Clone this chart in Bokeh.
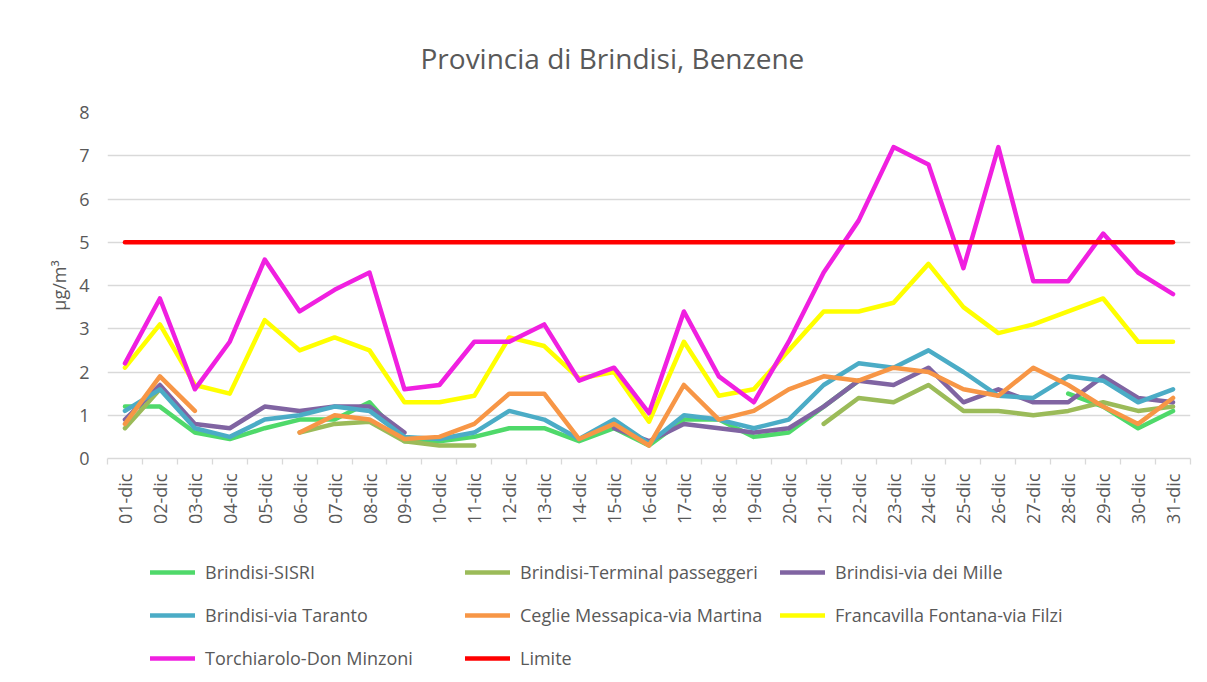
import math
import numpy as np
from bokeh.plotting import figure
from bokeh.layouts import column
from bokeh.models import FixedTicker, Legend, LegendItem, Range1d
from bokeh.embed import file_html
from bokeh.resources import INLINE

N = None
days = ["01-dic", "02-dic", "03-dic", "04-dic", "05-dic", "06-dic", "07-dic", "08-dic",
        "09-dic", "10-dic", "11-dic", "12-dic", "13-dic", "14-dic", "15-dic", "16-dic",
        "17-dic", "18-dic", "19-dic", "20-dic", "21-dic", "22-dic", "23-dic", "24-dic",
        "25-dic", "26-dic", "27-dic", "28-dic", "29-dic", "30-dic", "31-dic"]

sisri = [1.2, 1.2, 0.6, 0.45, 0.7, 0.9, 0.9, 1.3, 0.4, 0.4, 0.5, 0.7, 0.7, 0.4, 0.7, 0.3,
         0.9, 0.9, 0.5, 0.6, 1.2, 1.8, N, N, N, N, N, 1.5, 1.2, 0.7, 1.1]
terminal = [0.7, 1.6, N, N, N, 0.6, 0.8, 0.85, 0.4, 0.3, 0.3, N, N, N, N, N,
            N, N, N, N, 0.8, 1.4, 1.3, 1.7, 1.1, 1.1, 1.0, 1.1, 1.3, 1.1, 1.2]
mille = [0.9, 1.7, 0.8, 0.7, 1.2, 1.1, 1.2, 1.2, 0.6, N, N, N, N, N, 0.7, 0.4,
         0.8, 0.7, 0.6, 0.7, 1.2, 1.8, 1.7, 2.1, 1.3, 1.6, 1.3, 1.3, 1.9, 1.4, 1.3]
taranto = [1.1, 1.6, 0.7, 0.5, 0.9, 1.0, 1.2, 1.1, 0.5, 0.45, 0.6, 1.1, 0.9, 0.45, 0.9, 0.35,
           1.0, 0.9, 0.7, 0.9, 1.7, 2.2, 2.1, 2.5, 2.0, 1.45, 1.4, 1.9, 1.8, 1.3, 1.6]
ceglie = [0.8, 1.9, 1.1, N, N, 0.6, 1.0, 0.9, 0.45, 0.5, 0.8, 1.5, 1.5, 0.45, 0.8, 0.3,
          1.7, 0.9, 1.1, 1.6, 1.9, 1.8, 2.1, 2.0, 1.6, 1.45, 2.1, 1.7, 1.2, 0.8, 1.4]
francavilla = [2.1, 3.1, 1.7, 1.5, 3.2, 2.5, 2.8, 2.5, 1.3, 1.3, 1.45, 2.8, 2.6, 1.85, 2.0, 0.85,
               2.7, 1.45, 1.6, 2.5, 3.4, 3.4, 3.6, 4.5, 3.5, 2.9, 3.1, 3.4, 3.7, 2.7, 2.7]
torchiarolo = [2.2, 3.7, 1.6, 2.7, 4.6, 3.4, 3.9, 4.3, 1.6, 1.7, 2.7, 2.7, 3.1, 1.8, 2.1, 1.05,
               3.4, 1.9, 1.3, 2.7, 4.3, 5.5, 7.2, 6.8, 4.4, 7.2, 4.1, 4.1, 5.2, 4.3, 3.8]
limite = [5] * 31

series = [
    ("Brindisi-SISRI", sisri, "#4FD96A"),
    ("Brindisi-Terminal passeggeri", terminal, "#9BBB59"),
    ("Brindisi-via dei Mille", mille, "#8064A2"),
    ("Brindisi-via Taranto", taranto, "#4BACC6"),
    ("Ceglie Messapica-via Martina", ceglie, "#F79646"),
    ("Francavilla Fontana-via Filzi", francavilla, "#FFFF00"),
    ("Torchiarolo-Don Minzoni", torchiarolo, "#F020E0"),
    ("Limite", limite, "#FF0000"),
]

TXT = "#595959"
GRID = "#D9D9D9"
FONT = "Open Sans"
LW = 4.5

x = list(range(len(days)))

p = figure(width=1200, height=540, output_backend="svg", toolbar_location=None,
           x_range=Range1d(-0.5, len(days) - 0.5), y_range=Range1d(0, 8),
           min_border_left=107, min_border_right=10, min_border_top=110, min_border_bottom=82)
p.outline_line_color = None
p.background_fill_color = "white"
p.border_fill_color = "white"

p.title.text = "Provincia di Brindisi, Benzene"
p.title.align = "left"
p.title.offset = 313
p.title.standoff = 72
p.title.text_font = FONT
p.title.text_font_size = "28px"
p.title.text_font_style = "normal"
p.title.text_color = TXT

for name, vals, col in series:
    y = [np.nan if v is None else v for v in vals]
    p.line(x, y, line_color=col, line_width=LW, line_join="round", line_cap="round")

# axes
p.xaxis.ticker = FixedTicker(ticks=x, minor_ticks=[i - 0.5 for i in range(len(days) + 1)])
p.xaxis.major_label_overrides = {i: d for i, d in enumerate(days)}
p.xaxis.major_label_orientation = math.pi / 2
p.xaxis.axis_line_color = GRID
p.xaxis.axis_line_width = 1.3
p.xaxis.major_tick_line_color = None
p.xaxis.major_tick_out = 0
p.xaxis.major_tick_in = 0
p.xaxis.minor_tick_line_color = GRID
p.xaxis.minor_tick_line_width = 1.3
p.xaxis.minor_tick_out = 6
p.xaxis.minor_tick_in = 0
p.xaxis.major_label_standoff = 9
p.xaxis.major_label_text_font = FONT
p.xaxis.major_label_text_font_size = "18px"
p.xaxis.major_label_text_color = TXT

p.yaxis.ticker = FixedTicker(ticks=list(range(0, 9)))
p.yaxis.axis_line_color = None
p.yaxis.major_tick_line_color = None
p.yaxis.minor_tick_line_color = None
p.yaxis.major_label_standoff = 12
p.yaxis.major_label_text_font = FONT
p.yaxis.major_label_text_font_size = "18px"
p.yaxis.major_label_text_color = TXT
p.yaxis.axis_label = "µg/m³"
p.yaxis.axis_label_text_font = FONT
p.yaxis.axis_label_text_font_size = "18px"
p.yaxis.axis_label_text_font_style = "normal"
p.yaxis.axis_label_text_color = TXT
p.yaxis.axis_label_standoff = 5

p.xgrid.grid_line_color = None
p.ygrid.ticker = FixedTicker(ticks=list(range(1, 9)))
p.ygrid.grid_line_color = GRID
p.ygrid.grid_line_width = 1.3

# legend in its own strip below the chart
lg = figure(width=1200, height=134, output_backend="svg", toolbar_location=None,
            x_range=Range1d(0, 1), y_range=Range1d(0, 1),
            min_border_left=0, min_border_right=0, min_border_top=0, min_border_bottom=0)
lg.axis.visible = False
lg.grid.visible = False
lg.outline_line_color = None
lg.border_fill_color = "white"
lg.background_fill_color = "white"

items = []
for name, vals, col in series:
    # single off-range point: carries only the line style for the legend sample
    r = lg.line([5], [5], line_color=col, line_width=LW, line_cap="round")
    items.append(LegendItem(label=name, renderers=[r]))

legend = Legend(items=items, location=(43, 1), orientation="horizontal", ncols=3,
                glyph_width=45, glyph_height=30, label_height=30, label_width=247,
                label_standoff=10, spacing=13, padding=0, margin=0,
                label_text_font=FONT, label_text_font_size="18px", label_text_color=TXT,
                border_line_color=None, background_fill_alpha=0)
lg.add_layout(legend, "center")

layout = column(p, lg, spacing=0)
open("out.html", "w").write(file_html(layout, INLINE))
